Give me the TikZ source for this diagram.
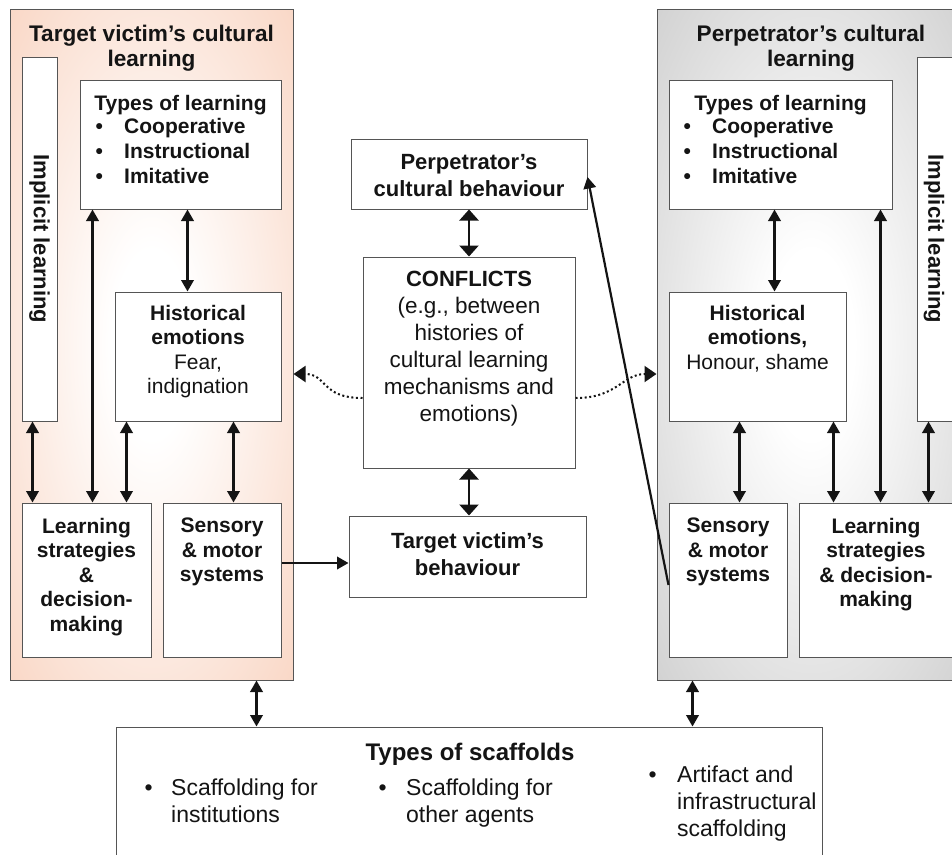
\documentclass[tikz,border=0pt]{standalone}
\usepackage{fontspec}
\setmainfont{Liberation Sans}
\usetikzlibrary{arrows.meta}

\definecolor{peach}{RGB}{247,200,176}
\definecolor{panelgray}{RGB}{192,192,192}
\definecolor{edge}{RGB}{85,85,85}
\definecolor{ink}{RGB}{20,20,20}

% soft glow from a white centre to the panel colour at the rim
\pgfdeclareradialshading{peachglow}{\pgfpoint{0bp}{0bp}}{color(0bp)=(white); color(7bp)=(white); color(47bp)=(peach); color(50bp)=(peach)}
\pgfdeclareradialshading{grayglow}{\pgfpoint{0bp}{0bp}}{color(0bp)=(white); color(7bp)=(white); color(47bp)=(panelgray); color(50bp)=(panelgray)}

\tikzset{
  panel/.style={draw=edge, line width=1pt, inner sep=0pt},
  box/.style={draw=edge, fill=white, line width=1pt, inner sep=0pt},
  dbl/.style={draw=ink, line width=2.2pt, <->, >={Triangle[length=11.5pt,width=12.5pt]}},
  wide/.style={draw=ink, line width=2.4pt, <->, >={Triangle[length=11pt,width=19pt]}},
  sgl/.style={draw=ink, line width=2.2pt, ->, >={Triangle[length=11.5pt,width=12.5pt]}},
  dots/.style={draw=ink, line width=2pt, dash pattern=on 2pt off 2.6pt, ->, >={Triangle[length=12pt,width=16pt]}},
  ttl/.style={text=ink, font=\fontsize{22.6pt}{25pt}\selectfont\bfseries, align=center, inner sep=0pt, anchor=north},
  inb/.style={text=ink, font=\fontsize{21pt}{24.5pt}\selectfont\bfseries, align=center, inner sep=0pt, anchor=north},
  ctr/.style={text=ink, font=\fontsize{22pt}{27pt}\selectfont\bfseries, align=center, inner sep=0pt, anchor=north},
  bul/.style={text=ink, font=\fontsize{21pt}{25pt}\selectfont\bfseries, align=left, inner sep=0pt, anchor=north west},
  sc/.style={text=ink, font=\fontsize{23pt}{27pt}\selectfont, align=left, inner sep=0pt, anchor=north west},
  vert/.style={text=ink, font=\fontsize{22pt}{25pt}\selectfont\bfseries, rotate=-90, inner sep=0pt}
}

\begin{document}
\begin{tikzpicture}[x=1pt, y=-1pt]
\useasboundingbox (0,0) rectangle (952,854);

% ---- the two cultural-learning panels ----
\node[panel, shade, shading=peachglow, minimum width=283pt, minimum height=671pt] (panL) at (151.5,344.5) {};
\node[panel, shade, shading=grayglow, minimum width=308pt, minimum height=671pt] (panR) at (811,344.5) {};

\node[ttl] (panLt) at (151.5,25) {Target victim’s cultural\\learning};
\node[ttl] (panRt) at (811,25) {Perpetrator’s cultural\\learning};

% ---- boxes of the victim's panel ----
\node[box, minimum width=35pt, minimum height=364pt] (impL) at (39.5,239) {};
\node[box, minimum width=201pt, minimum height=129pt] (tlL) at (180.5,144.5) {};
\node[box, minimum width=166pt, minimum height=129pt] (heL) at (198,356.5) {};
\node[box, minimum width=129pt, minimum height=154pt] (lsL) at (86.5,580) {};
\node[box, minimum width=118pt, minimum height=154pt] (smL) at (222,580) {};

% ---- boxes of the perpetrator's panel ----
\node[box, minimum width=43pt, minimum height=364pt] (impR) at (938.5,239) {};
\node[box, minimum width=223pt, minimum height=129pt] (tlR) at (780.5,144.5) {};
\node[box, minimum width=177pt, minimum height=129pt] (heR) at (757.5,356.5) {};
\node[box, minimum width=118pt, minimum height=154pt] (smR) at (728,580) {};
\node[box, minimum width=156pt, minimum height=154pt] (lsR) at (877,580) {};

% ---- centre column and scaffolds ----
\node[box, minimum width=236pt, minimum height=70pt] (pcb) at (469,174) {};
\node[box, minimum width=212pt, minimum height=211pt] (conf) at (469,362.5) {};
\node[box, minimum width=237pt, minimum height=81pt] (tvb) at (467.5,556.5) {};
\node[box, minimum width=706pt, minimum height=143pt] (scaf) at (469,798.5) {};

% ---- texts ----
\node[vert] (impLt) at (39.5,239) {Implicit learning};
\node[vert] (impRt) at (934,239) {Implicit learning};

\node[inb, anchor=base] (tlLh) at (180.5,110) {Types of learning};
\node[bul] (tlLb) at (95.3,118) {\makebox[28.7pt][l]{\textbullet}Cooperative\\\makebox[28.7pt][l]{\textbullet}Instructional\\\makebox[28.7pt][l]{\textbullet}Imitative};
\node[inb, anchor=base] (tlRh) at (780.5,110) {Types of learning};
\node[bul] (tlRb) at (683.3,118) {\makebox[28.7pt][l]{\textbullet}Cooperative\\\makebox[28.7pt][l]{\textbullet}Instructional\\\makebox[28.7pt][l]{\textbullet}Imitative};

\node[inb] (heLt) at (198,304.9) {Historical\\emotions\\{\mdseries Fear,}\\{\mdseries indignation}};
\node[inb] (heRt) at (757.5,304.9) {Historical\\emotions,\\{\mdseries Honour, shame}};

\node[inb] (lsLt) at (86.5,517.9) {Learning\\strategies\\\&\\decision-\\making};
\node[inb] (smLt) at (222,517.9) {Sensory\\\& motor\\systems};
\node[inb] (smRt) at (728,517.9) {Sensory\\\& motor\\systems};
\node[inb] (lsRt) at (876,517.9) {Learning\\strategies\\\& decision-\\making};

\node[ctr] (pcbt) at (469,154.2) {Perpetrator’s\\cultural behaviour};
\node[ctr] (conft) at (469,271.2) {CONFLICTS\\{\fontsize{22.5pt}{27pt}\selectfont\mdseries (e.g., between}\\{\fontsize{22.5pt}{27pt}\selectfont\mdseries histories of}\\{\fontsize{22.5pt}{27pt}\selectfont\mdseries cultural learning}\\{\fontsize{22.5pt}{27pt}\selectfont\mdseries mechanisms and}\\{\fontsize{22.5pt}{27pt}\selectfont\mdseries emotions)}};
\node[ctr] (tvbt) at (467.5,532.2) {Target victim’s\\behaviour};

\node[ctr, font=\fontsize{24pt}{27pt}\selectfont\bfseries, anchor=base] (scaft) at (470,760) {Types of scaffolds};
\node[sc] (sc1) at (144.5,778.4) {\makebox[26.5pt][l]{\textbullet}Scaffolding for\\\hspace*{26.5pt}institutions};
\node[sc] (sc2) at (378.5,778.4) {\makebox[27.5pt][l]{\textbullet}Scaffolding for\\\hspace*{27.5pt}other agents};
\node[sc] (sc3) at (648.5,765.4) {\makebox[28.5pt][l]{\textbullet}Artifact and\\\hspace*{28.5pt}infrastructural\\\hspace*{28.5pt}scaffolding};

% ---- links inside the victim's panel ----
\draw[dbl] ([xshift=11pt]impL.south west) -- ([xshift=11pt]lsL.north west);
\draw[dbl] ([xshift=13pt]tlL.south west) -- ([xshift=71pt]lsL.north west);
\draw[dbl] ([xshift=12pt]heL.south west) -- ([xshift=105pt]lsL.north west);
\draw[dbl] ([xshift=119pt]heL.south west) -- ([xshift=71pt]smL.north west);
\draw[dbl] ([xshift=108pt]tlL.south west) -- ([xshift=73pt]heL.north west);

% ---- links inside the perpetrator's panel ----
\draw[dbl] ([xshift=106pt]tlR.south west) -- ([xshift=106pt]heR.north west);
\draw[dbl] ([xshift=71pt]heR.south west) -- ([xshift=71pt]smR.north west);
\draw[dbl] ([xshift=165pt]heR.south west) -- ([xshift=35pt]lsR.north west);
\draw[dbl] ([xshift=212pt]tlR.south west) -- ([xshift=82pt]lsR.north west);
\draw[dbl] ([xshift=12pt]impR.south west) -- ([xshift=130pt]lsR.north west);

% ---- centre links ----
\draw[wide] (pcb.south) -- (conf.north);
\draw[wide] (conf.south) -- (conf.south |- tvb.north);
\draw[sgl] ([yshift=17pt]smL.east) -- ([yshift=-6.5pt]tvb.west);
\draw[sgl] ([yshift=-5pt]smR.west) -- ([yshift=-3pt]pcb.east);

\draw[dots] ([yshift=-35.5pt]conf.west) .. controls +(-42,0) and +(34,0) .. ([yshift=-29.5pt]panL.east);
\draw[dots] ([yshift=-35.5pt]conf.east) .. controls +(42,0) and +(-34,0) .. ([yshift=-29.5pt]panR.west);

% ---- panels to scaffolds ----
\draw[dbl] ([xshift=247pt]panL.south west) -- ([xshift=141pt]scaf.north west);
\draw[dbl] ([xshift=36pt]panR.south west) -- ([xshift=577pt]scaf.north west);
\end{tikzpicture}
\end{document}
